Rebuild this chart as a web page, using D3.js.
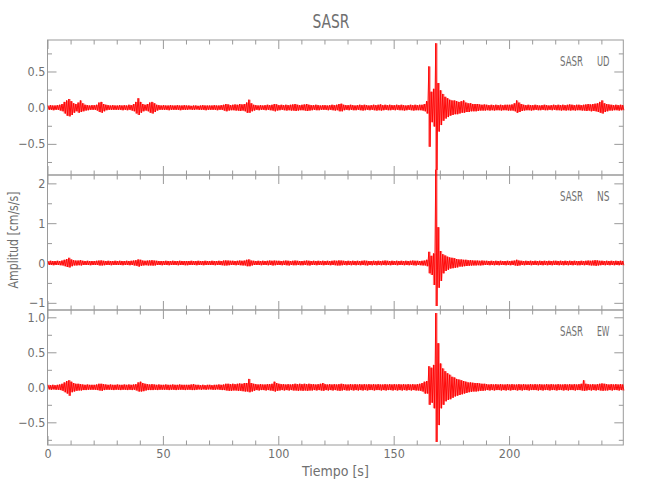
<!DOCTYPE html>
<html><head><meta charset="utf-8">
<script src="https://cdn.jsdelivr.net/npm/d3@7"></script>
<style>body{margin:0;background:#fff} svg{display:block}</style>
</head><body><svg id="chart" width="650" height="500"></svg>
<script>
// ---- data: envelope of each record in 1-second bins, starting at 0 s ----
const binStart = 0;      // s
const binWidth = 1;      // s
const timeDomain = [0, 249.5];

const udHi = [
0.03,0.035,0.03,0.03,0.035,0.04,0.05,0.08,0.10,0.12,
0.09,0.06,0.05,0.07,0.10,0.06,0.04,0.035,0.03,0.035,
0.035,0.04,0.07,0.08,0.05,0.04,0.035,0.03,0.035,0.03,
0.03,0.035,0.03,0.035,0.03,0.04,0.035,0.05,0.08,0.13,
0.08,0.05,0.04,0.05,0.07,0.08,0.06,0.04,0.035,0.03,
0.035,0.03,0.03,0.035,0.03,0.03,0.035,0.03,0.03,0.035,
0.03,0.03,0.025,0.03,0.03,0.025,0.03,0.035,0.03,0.03,
0.03,0.03,0.035,0.03,0.03,0.035,0.04,0.05,0.045,0.035,
0.04,0.045,0.04,0.05,0.045,0.05,0.07,0.11,0.06,0.04,
0.035,0.03,0.035,0.03,0.035,0.04,0.035,0.04,0.05,0.045,
0.035,0.04,0.035,0.04,0.035,0.04,0.045,0.05,0.04,0.035,
0.04,0.045,0.05,0.04,0.035,0.035,0.04,0.035,0.03,0.035,
0.035,0.03,0.035,0.04,0.035,0.04,0.05,0.055,0.04,0.035,
0.035,0.04,0.035,0.03,0.035,0.04,0.035,0.04,0.035,0.03,
0.035,0.04,0.035,0.04,0.045,0.035,0.04,0.035,0.04,0.035,
0.035,0.04,0.035,0.04,0.035,0.03,0.035,0.04,0.035,0.04,
0.035,0.04,0.04,0.05,0.09,0.57,0.22,0.26,0.89,0.34,
0.24,0.19,0.15,0.13,0.11,0.10,0.10,0.09,0.08,0.09,
0.10,0.07,0.06,0.06,0.05,0.05,0.05,0.045,0.04,0.045,
0.04,0.035,0.04,0.035,0.04,0.035,0.04,0.035,0.04,0.04,
0.04,0.045,0.06,0.10,0.07,0.05,0.04,0.035,0.04,0.035,
0.035,0.04,0.035,0.03,0.035,0.04,0.035,0.03,0.035,0.04,
0.035,0.04,0.035,0.04,0.035,0.04,0.045,0.04,0.035,0.04,
0.04,0.035,0.04,0.045,0.05,0.045,0.05,0.055,0.06,0.08,
0.10,0.06,0.05,0.045,0.04,0.035,0.04,0.035,0.04,0.035];
const udLo = [
-0.03,-0.03,-0.035,-0.03,-0.03,-0.04,-0.05,-0.08,-0.11,-0.12,
-0.10,-0.07,-0.05,-0.07,-0.06,-0.05,-0.04,-0.035,-0.03,-0.03,
-0.03,-0.04,-0.06,-0.07,-0.05,-0.035,-0.03,-0.03,-0.03,-0.03,
-0.03,-0.03,-0.035,-0.03,-0.035,-0.03,-0.04,-0.05,-0.08,-0.10,
-0.07,-0.05,-0.04,-0.05,-0.07,-0.08,-0.06,-0.04,-0.03,-0.03,
-0.03,-0.03,-0.035,-0.03,-0.03,-0.03,-0.03,-0.035,-0.03,-0.03,
-0.03,-0.025,-0.03,-0.03,-0.025,-0.03,-0.03,-0.03,-0.035,-0.03,
-0.03,-0.03,-0.03,-0.035,-0.03,-0.03,-0.04,-0.05,-0.04,-0.035,
-0.035,-0.04,-0.04,-0.045,-0.04,-0.05,-0.07,-0.07,-0.05,-0.04,
-0.03,-0.035,-0.03,-0.03,-0.035,-0.03,-0.035,-0.04,-0.05,-0.04,
-0.035,-0.03,-0.035,-0.04,-0.035,-0.04,-0.04,-0.045,-0.04,-0.035,
-0.035,-0.04,-0.045,-0.04,-0.035,-0.03,-0.035,-0.035,-0.03,-0.03,
-0.03,-0.035,-0.03,-0.035,-0.04,-0.035,-0.05,-0.05,-0.035,-0.03,
-0.035,-0.03,-0.035,-0.035,-0.03,-0.035,-0.04,-0.035,-0.03,-0.035,
-0.03,-0.035,-0.04,-0.035,-0.04,-0.035,-0.03,-0.035,-0.035,-0.03,
-0.035,-0.03,-0.035,-0.035,-0.04,-0.035,-0.03,-0.035,-0.04,-0.035,
-0.035,-0.035,-0.04,-0.05,-0.08,-0.54,-0.20,-0.26,-0.86,-0.33,
-0.24,-0.18,-0.15,-0.13,-0.11,-0.10,-0.09,-0.09,-0.08,-0.07,
-0.07,-0.06,-0.06,-0.05,-0.05,-0.05,-0.045,-0.04,-0.04,-0.04,
-0.035,-0.04,-0.035,-0.04,-0.035,-0.035,-0.04,-0.035,-0.035,-0.04,
-0.04,-0.04,-0.05,-0.07,-0.06,-0.045,-0.04,-0.035,-0.035,-0.04,
-0.035,-0.03,-0.035,-0.035,-0.03,-0.035,-0.035,-0.03,-0.035,-0.03,
-0.035,-0.035,-0.04,-0.035,-0.04,-0.035,-0.04,-0.035,-0.04,-0.035,
-0.035,-0.04,-0.04,-0.045,-0.04,-0.05,-0.045,-0.05,-0.06,-0.07,
-0.08,-0.06,-0.05,-0.04,-0.04,-0.035,-0.035,-0.04,-0.035,-0.035];

const nsHi = [
0.05,0.055,0.05,0.05,0.055,0.05,0.06,0.08,0.10,0.13,
0.09,0.07,0.06,0.06,0.07,0.055,0.05,0.055,0.05,0.05,
0.05,0.055,0.06,0.065,0.055,0.05,0.055,0.05,0.05,0.055,
0.05,0.055,0.05,0.05,0.055,0.05,0.055,0.06,0.07,0.09,
0.08,0.06,0.055,0.06,0.065,0.07,0.06,0.055,0.05,0.05,
0.05,0.055,0.05,0.05,0.055,0.05,0.05,0.055,0.05,0.05,
0.05,0.05,0.055,0.05,0.05,0.055,0.05,0.05,0.055,0.05,
0.05,0.055,0.05,0.05,0.055,0.05,0.06,0.065,0.06,0.055,
0.055,0.05,0.055,0.06,0.055,0.06,0.08,0.09,0.06,0.055,
0.05,0.055,0.05,0.055,0.05,0.055,0.06,0.055,0.06,0.055,
0.055,0.05,0.055,0.06,0.055,0.05,0.055,0.06,0.055,0.05,
0.05,0.055,0.06,0.055,0.05,0.055,0.05,0.055,0.05,0.055,
0.05,0.055,0.05,0.055,0.06,0.055,0.065,0.06,0.055,0.05,
0.055,0.05,0.055,0.05,0.055,0.05,0.055,0.06,0.055,0.05,
0.05,0.055,0.05,0.055,0.05,0.055,0.06,0.055,0.05,0.055,
0.05,0.055,0.05,0.055,0.05,0.055,0.05,0.055,0.06,0.055,
0.055,0.05,0.055,0.06,0.08,0.28,0.18,0.24,2.34,0.90,
0.30,0.22,0.19,0.16,0.14,0.13,0.12,0.10,0.09,0.09,
0.08,0.08,0.07,0.07,0.065,0.06,0.06,0.055,0.06,0.055,
0.055,0.05,0.055,0.05,0.055,0.05,0.055,0.05,0.05,0.055,
0.05,0.055,0.06,0.08,0.06,0.055,0.05,0.055,0.05,0.055,
0.05,0.055,0.05,0.055,0.05,0.055,0.05,0.055,0.05,0.055,
0.055,0.05,0.055,0.05,0.055,0.05,0.055,0.05,0.055,0.05,
0.05,0.055,0.05,0.055,0.06,0.055,0.06,0.07,0.065,0.055,
0.055,0.05,0.055,0.05,0.055,0.05,0.055,0.05,0.055,0.05];
const nsLo = [
-0.05,-0.05,-0.055,-0.05,-0.05,-0.055,-0.06,-0.08,-0.10,-0.11,
-0.08,-0.06,-0.06,-0.055,-0.06,-0.05,-0.05,-0.05,-0.055,-0.05,
-0.05,-0.05,-0.06,-0.06,-0.055,-0.05,-0.05,-0.055,-0.05,-0.05,
-0.05,-0.05,-0.055,-0.05,-0.05,-0.055,-0.05,-0.06,-0.07,-0.09,
-0.07,-0.06,-0.055,-0.06,-0.06,-0.065,-0.06,-0.05,-0.05,-0.055,
-0.05,-0.05,-0.055,-0.05,-0.05,-0.05,-0.055,-0.05,-0.05,-0.055,
-0.055,-0.05,-0.05,-0.05,-0.055,-0.05,-0.05,-0.055,-0.05,-0.05,
-0.05,-0.05,-0.055,-0.05,-0.05,-0.055,-0.06,-0.06,-0.055,-0.05,
-0.05,-0.055,-0.05,-0.055,-0.06,-0.06,-0.08,-0.08,-0.06,-0.05,
-0.05,-0.05,-0.055,-0.05,-0.05,-0.055,-0.05,-0.06,-0.055,-0.05,
-0.05,-0.055,-0.05,-0.055,-0.06,-0.05,-0.055,-0.055,-0.05,-0.055,
-0.055,-0.05,-0.055,-0.06,-0.05,-0.05,-0.055,-0.05,-0.05,-0.055,
-0.05,-0.05,-0.055,-0.05,-0.055,-0.06,-0.06,-0.055,-0.05,-0.055,
-0.05,-0.055,-0.05,-0.055,-0.05,-0.055,-0.05,-0.055,-0.06,-0.05,
-0.055,-0.05,-0.055,-0.05,-0.055,-0.05,-0.055,-0.05,-0.055,-0.05,
-0.05,-0.055,-0.05,-0.05,-0.055,-0.05,-0.055,-0.05,-0.055,-0.06,
-0.05,-0.055,-0.06,-0.06,-0.08,-0.26,-0.30,-0.55,-1.08,-0.62,
-0.45,-0.26,-0.20,-0.17,-0.14,-0.13,-0.12,-0.11,-0.09,-0.09,
-0.08,-0.075,-0.07,-0.065,-0.06,-0.06,-0.055,-0.06,-0.055,-0.05,
-0.05,-0.055,-0.05,-0.055,-0.05,-0.055,-0.05,-0.05,-0.055,-0.05,
-0.055,-0.05,-0.06,-0.07,-0.06,-0.05,-0.055,-0.05,-0.05,-0.055,
-0.05,-0.05,-0.055,-0.05,-0.055,-0.05,-0.055,-0.05,-0.055,-0.05,
-0.05,-0.055,-0.05,-0.055,-0.05,-0.055,-0.05,-0.055,-0.05,-0.055,
-0.055,-0.05,-0.055,-0.05,-0.055,-0.06,-0.06,-0.07,-0.06,-0.055,
-0.05,-0.055,-0.05,-0.055,-0.05,-0.055,-0.05,-0.055,-0.05,-0.055];

const ewHi = [
0.035,0.03,0.035,0.03,0.035,0.04,0.05,0.07,0.09,0.10,
0.08,0.06,0.05,0.05,0.045,0.04,0.035,0.04,0.035,0.035,
0.035,0.04,0.05,0.05,0.045,0.04,0.035,0.04,0.035,0.035,
0.04,0.035,0.035,0.04,0.035,0.04,0.035,0.04,0.045,0.07,
0.08,0.06,0.05,0.045,0.04,0.045,0.04,0.035,0.04,0.035,
0.035,0.04,0.035,0.035,0.04,0.035,0.035,0.04,0.035,0.035,
0.035,0.035,0.04,0.045,0.035,0.035,0.03,0.035,0.03,0.035,
0.035,0.03,0.035,0.035,0.04,0.035,0.04,0.05,0.05,0.045,
0.05,0.045,0.05,0.055,0.05,0.06,0.06,0.12,0.06,0.05,
0.045,0.04,0.045,0.04,0.04,0.045,0.045,0.05,0.08,0.06,
0.05,0.045,0.045,0.04,0.045,0.04,0.045,0.05,0.045,0.05,
0.045,0.05,0.045,0.05,0.045,0.045,0.04,0.045,0.05,0.06,
0.045,0.04,0.045,0.04,0.045,0.04,0.045,0.05,0.045,0.04,
0.04,0.045,0.04,0.045,0.04,0.045,0.04,0.045,0.04,0.045,
0.04,0.045,0.04,0.045,0.04,0.04,0.045,0.04,0.045,0.04,
0.045,0.04,0.045,0.04,0.045,0.04,0.045,0.04,0.045,0.04,
0.045,0.05,0.06,0.08,0.09,0.30,0.28,0.32,1.06,0.63,
0.34,0.27,0.23,0.20,0.18,0.15,0.14,0.12,0.11,0.10,
0.09,0.08,0.07,0.07,0.065,0.06,0.06,0.055,0.05,0.05,
0.045,0.04,0.045,0.04,0.045,0.04,0.045,0.04,0.04,0.045,
0.04,0.045,0.04,0.04,0.045,0.04,0.045,0.04,0.04,0.045,
0.04,0.045,0.04,0.045,0.04,0.04,0.045,0.04,0.045,0.04,
0.04,0.045,0.04,0.04,0.045,0.04,0.045,0.04,0.045,0.04,
0.045,0.05,0.10,0.05,0.045,0.04,0.045,0.04,0.045,0.05,
0.055,0.05,0.045,0.04,0.045,0.04,0.045,0.04,0.045,0.04];
const ewLo = [
-0.03,-0.035,-0.03,-0.035,-0.035,-0.04,-0.05,-0.07,-0.09,-0.12,
-0.07,-0.06,-0.05,-0.045,-0.045,-0.04,-0.04,-0.035,-0.035,-0.035,
-0.035,-0.04,-0.045,-0.05,-0.04,-0.035,-0.035,-0.035,-0.04,-0.035,
-0.035,-0.04,-0.035,-0.035,-0.04,-0.035,-0.04,-0.035,-0.045,-0.06,
-0.06,-0.055,-0.045,-0.04,-0.04,-0.04,-0.035,-0.04,-0.035,-0.035,
-0.035,-0.035,-0.04,-0.035,-0.035,-0.04,-0.035,-0.035,-0.035,-0.04,
-0.035,-0.035,-0.04,-0.04,-0.035,-0.03,-0.035,-0.03,-0.035,-0.03,
-0.03,-0.035,-0.035,-0.03,-0.035,-0.04,-0.04,-0.045,-0.05,-0.05,
-0.045,-0.045,-0.05,-0.05,-0.055,-0.06,-0.06,-0.07,-0.06,-0.05,
-0.04,-0.045,-0.04,-0.04,-0.045,-0.04,-0.045,-0.05,-0.06,-0.05,
-0.045,-0.04,-0.045,-0.04,-0.045,-0.04,-0.045,-0.045,-0.05,-0.045,
-0.05,-0.045,-0.05,-0.045,-0.045,-0.04,-0.045,-0.04,-0.045,-0.05,
-0.04,-0.045,-0.04,-0.045,-0.04,-0.045,-0.05,-0.045,-0.04,-0.045,
-0.045,-0.04,-0.045,-0.04,-0.045,-0.04,-0.045,-0.04,-0.045,-0.04,
-0.04,-0.045,-0.04,-0.04,-0.045,-0.04,-0.045,-0.04,-0.04,-0.045,
-0.04,-0.045,-0.04,-0.045,-0.04,-0.045,-0.04,-0.045,-0.04,-0.045,
-0.045,-0.05,-0.06,-0.09,-0.09,-0.25,-0.22,-0.30,-0.78,-0.54,
-0.30,-0.25,-0.20,-0.18,-0.17,-0.15,-0.13,-0.12,-0.11,-0.10,
-0.09,-0.08,-0.07,-0.065,-0.06,-0.06,-0.055,-0.05,-0.05,-0.045,
-0.04,-0.045,-0.04,-0.045,-0.04,-0.04,-0.045,-0.04,-0.045,-0.04,
-0.045,-0.04,-0.04,-0.045,-0.04,-0.045,-0.04,-0.04,-0.045,-0.04,
-0.04,-0.04,-0.045,-0.04,-0.045,-0.04,-0.04,-0.045,-0.04,-0.04,
-0.045,-0.04,-0.04,-0.045,-0.04,-0.045,-0.04,-0.04,-0.045,-0.04,
-0.04,-0.045,-0.05,-0.045,-0.04,-0.045,-0.04,-0.045,-0.04,-0.045,
-0.05,-0.045,-0.045,-0.04,-0.045,-0.04,-0.04,-0.045,-0.04,-0.045];

// ---- text & ticks ----
const stationName = "SASR";
const componentNames = ["UD", "NS", "EW"];
const timeMajorTicks = [0, 50, 100, 150, 200];
const timeMinorTicks = [10,20,30,40,60,70,80,90,110,120,130,140,160,170,180,190,210,220,230,240];
const udMajorTicks = [-0.5, 0.0, 0.5];
const udMinorTicks = [-0.75, -0.25, 0.25, 0.75];
const nsMajorTicks = [-1, 0, 1, 2];
const nsMinorTicks = [-0.5, 0.5, 1.5];
const ewMajorTicks = [-0.5, 0.0, 0.5, 1.0];
const ewMinorTicks = [-0.75, -0.25, 0.25, 0.75];
const udDomain = [-0.93, 0.935];
const nsDomain = [-1.18, 2.21];
const ewDomain = [-0.824, 1.104];
const titleText = "SASR";
const xLabel = "Tiempo [s]";
const yLabel = "Amplitud [cm/s/s]";

// ---- drawing ----
const svg = d3.select("#chart");
const FONT = "'Liberation Sans Narrow','DejaVu Sans Condensed',sans-serif";
const AXIS = "#9a9a9a", TEXT = "#707070";
const L = 47.5, R = 623.3;
const panelTops = [40, 175, 310];
const panelH = 135;

const x = d3.scaleLinear().domain(timeDomain).range([L, R]);

const panels = [
  {hi: udHi, lo: udLo, dom: udDomain, major: udMajorTicks, minor: udMinorTicks, fmt: d3.format(".1f")},
  {hi: nsHi, lo: nsLo, dom: nsDomain, major: nsMajorTicks, minor: nsMinorTicks, fmt: d3.format("d")},
  {hi: ewHi, lo: ewLo, dom: ewDomain, major: ewMajorTicks, minor: ewMinorTicks, fmt: d3.format(".1f")}
];

function styleAxis(g) {
  g.select(".domain").remove();
  g.selectAll("line").attr("stroke", AXIS).attr("stroke-width", 1);
  g.selectAll("text").attr("fill", TEXT).attr("font-family", FONT).attr("font-size", 12.5);
}

const traces = svg.append("g");
const axesG = svg.append("g");

panels.forEach((p, k) => {
  const top = panelTops[k], bot = top + panelH;
  const y = d3.scaleLinear().domain(p.dom).range([bot, top]);
  const g = axesG.append("g");

  g.append("rect").attr("x", L).attr("y", top).attr("width", R - L).attr("height", panelH)
    .attr("fill", "none").attr("stroke", AXIS).attr("stroke-width", 1);

  // y axes
  g.append("g").attr("transform", `translate(${L},0)`)
    .call(d3.axisLeft(y).tickValues(p.major).tickSize(-9).tickPadding(2).tickFormat(d => p.fmt(d).replace("-", "\u2212")))
    .call(styleAxis);
  g.append("g").attr("transform", `translate(${L},0)`)
    .call(d3.axisLeft(y).tickValues(p.minor).tickSize(-4.5).tickFormat("")).call(styleAxis);
  g.append("g").attr("transform", `translate(${R},0)`)
    .call(d3.axisRight(y).tickValues(p.major).tickSize(-9).tickFormat("")).call(styleAxis);
  g.append("g").attr("transform", `translate(${R},0)`)
    .call(d3.axisRight(y).tickValues(p.minor).tickSize(-4.5).tickFormat("")).call(styleAxis);

  // x axes (top & bottom of each panel)
  g.append("g").attr("transform", `translate(0,${top})`)
    .call(d3.axisTop(x).tickValues(timeMajorTicks).tickSize(-9).tickFormat("")).call(styleAxis);
  g.append("g").attr("transform", `translate(0,${top})`)
    .call(d3.axisTop(x).tickValues(timeMinorTicks).tickSize(-4.5).tickFormat("")).call(styleAxis);
  g.append("g").attr("transform", `translate(0,${bot})`)
    .call(d3.axisBottom(x).tickValues(timeMajorTicks).tickSize(-9).tickPadding(4)
      .tickFormat(k === 2 ? d3.format("d") : ""))
    .call(styleAxis);
  g.append("g").attr("transform", `translate(0,${bot})`)
    .call(d3.axisBottom(x).tickValues(timeMinorTicks).tickSize(-4.5).tickFormat("")).call(styleAxis);

  // component label
  const ly = top + 26;
  g.append("text").attr("x", 560).attr("y", ly).attr("fill", TEXT).attr("font-family", FONT)
    .attr("font-size", 14).attr("textLength", 23).attr("lengthAdjust", "spacingAndGlyphs").text(stationName);
  g.append("text").attr("x", 597).attr("y", ly).attr("fill", TEXT).attr("font-family", FONT)
    .attr("font-size", 14).attr("textLength", 12.5).attr("lengthAdjust", "spacingAndGlyphs").text(componentNames[k]);

  // bins as [time, max, min]
  const bins = p.hi.map((v, i) => [binStart + i * binWidth, v, p.lo[i]]);

  // filled envelope band (step per bin)
  traces.append("path").datum(bins)
    .attr("d", d3.area().curve(d3.curveStep)
      .x(d => x(d[0] + 0.5 * binWidth)).y0(d => y(d[2])).y1(d => y(d[1])))
    .attr("fill", "#ff0000").attr("opacity", 0.55);

  // trace: zig-zag through each bin's max then min
  const pts = [];
  bins.forEach(b => {
    pts.push([b[0] + 0.25 * binWidth, b[1]]);
    pts.push([b[0] + 0.75 * binWidth, b[2]]);
  });
  traces.append("path").datum(pts)
    .attr("d", d3.line().x(d => x(d[0])).y(d => y(d[1])))
    .attr("fill", "none").attr("stroke", "#ff0000").attr("stroke-width", 0.9);
});

// traces on top of axes
traces.raise();

// titles
svg.append("text").attr("x", 331).attr("y", 28).attr("text-anchor", "middle")
  .attr("fill", TEXT).attr("font-family", FONT).attr("font-size", 20)
  .attr("textLength", 37).attr("lengthAdjust", "spacingAndGlyphs").text(titleText);
svg.append("text").attr("x", (L + R) / 2).attr("y", 476).attr("text-anchor", "middle")
  .attr("fill", TEXT).attr("font-family", FONT).attr("font-size", 14).text(xLabel);
svg.append("text").attr("transform", "translate(18,240) rotate(-90)").attr("text-anchor", "middle")
  .attr("fill", TEXT).attr("font-family", FONT).attr("font-size", 14)
  .attr("textLength", 97).attr("lengthAdjust", "spacingAndGlyphs").text(yLabel);
</script>
</body></html>
